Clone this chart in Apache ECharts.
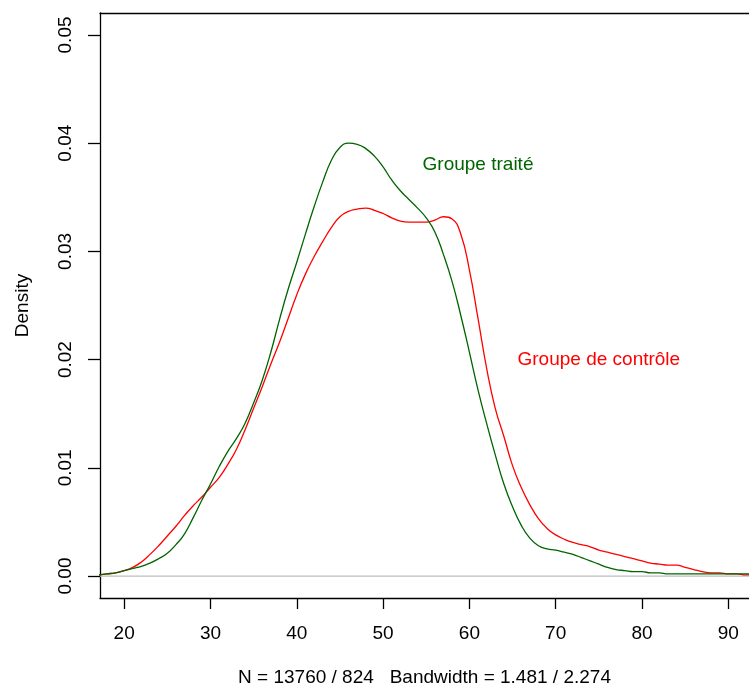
<!DOCTYPE html>
<html>
<head>
<meta charset="utf-8">
<script src="https://cdn.jsdelivr.net/npm/echarts@6/dist/echarts.min.js"></script>
<style>
html,body{margin:0;padding:0;background:#fff;}
#chart{width:749px;height:689px;}
</style>
</head>
<body>
<div id="chart"></div>
<script>
// Density estimates (x = age, y = density)
var ages = [17, 18, 19, 20, 21, 22, 23, 24, 25, 26, 27, 28, 29, 30, 31, 32, 33, 34, 35, 36, 37, 38, 39, 40, 41, 42, 43, 44, 45, 46, 47, 48, 49, 50, 51, 52, 53, 54, 55, 56, 57, 58, 59, 60, 61, 62, 63, 64, 65, 66, 67, 68, 69, 70, 71, 72, 73, 74, 75, 76, 77, 78, 79, 80, 81, 82, 83, 84, 85, 86, 87, 88, 89, 90, 91, 92, 93];

var treatedDensity = [0.0001, 0.0002, 0.0003, 0.0005, 0.0007, 0.0009, 0.0012, 0.0016, 0.0021, 0.0029, 0.0039, 0.0054, 0.0070, 0.0085, 0.0101, 0.0115, 0.0127, 0.0141, 0.0160, 0.0181, 0.0207, 0.0237, 0.0265, 0.0290, 0.0316, 0.0341, 0.0364, 0.0384, 0.0396, 0.0400, 0.0399, 0.0395, 0.0388, 0.0378, 0.0366, 0.0356, 0.0348, 0.0340, 0.0331, 0.0318, 0.0297, 0.0272, 0.0241, 0.0207, 0.0172, 0.0141, 0.0112, 0.0085, 0.0064, 0.0047, 0.0035, 0.0028, 0.0025, 0.0024, 0.0022, 0.0020, 0.0017, 0.0014, 0.0011, 0.0008, 0.0006, 0.0005, 0.0004, 0.0004, 0.0003, 0.0003, 0.0002, 0.0002, 0.0002, 0.0002, 0.0002, 0.0002, 0.0002, 0.0002, 0.0002, 0.0002, 0.0002];

var controlDensity = [0.0001, 0.0002, 0.0003, 0.0005, 0.0008, 0.0013, 0.0020, 0.0028, 0.0037, 0.0046, 0.0056, 0.0065, 0.0073, 0.0082, 0.0091, 0.0103, 0.0117, 0.0135, 0.0155, 0.0175, 0.0196, 0.0216, 0.0238, 0.0260, 0.0279, 0.0295, 0.0309, 0.0322, 0.0332, 0.0337, 0.0339, 0.0340, 0.0338, 0.0335, 0.0331, 0.0328, 0.0327, 0.0327, 0.0327, 0.0329, 0.0332, 0.0330, 0.0316, 0.0283, 0.0238, 0.0192, 0.0155, 0.0129, 0.0102, 0.0082, 0.0066, 0.0053, 0.0044, 0.0038, 0.0034, 0.0031, 0.0029, 0.0027, 0.0024, 0.0022, 0.0020, 0.0018, 0.0016, 0.0014, 0.0012, 0.0011, 0.0010, 0.0010, 0.0008, 0.0006, 0.0004, 0.0003, 0.0003, 0.0002, 0.0002, 0.0001, 0.0001];

var xTicks = [20, 30, 40, 50, 60, 70, 80, 90];
var yTicks = [0, 0.01, 0.02, 0.03, 0.04, 0.05];

var treatedLabel = {text: 'Groupe traité', x: 61, y: 0.038};
var controlLabel = {text: 'Groupe de contrôle', x: 75, y: 0.02};
var xTitle = 'N = 13760 / 824   Bandwidth = 1.481 / 2.274';
var yTitle = 'Density';

function zip(xs, ys){ return xs.map(function(x,i){ return [x, ys[i]]; }); }

var FONT = 'Liberation Sans, Arial, sans-serif';
var FS = 19;

var chart = echarts.init(document.getElementById('chart'), null, {renderer: 'canvas'});
chart.setOption({
  animation: false,
  backgroundColor: '#ffffff',
  grid: {left: 100, right: 0, top: 13, bottom: 91, containLabel: false, outerBoundsMode: 'none'},
  xAxis: [{
    type: 'value', min: 17.2, max: 92.4, position: 'bottom',
    name: xTitle, nameLocation: 'middle', nameGap: 70,
    nameTextStyle: {fontFamily: FONT, fontSize: FS, color: '#000'},
    splitLine: {show: false},
    axisLine: {show: true, onZero: false, lineStyle: {color: '#000', width: 1.3}},
    axisTick: {show: true, length: 11, customValues: xTicks, lineStyle: {color: '#000', width: 1.3}},
    axisLabel: {customValues: xTicks, margin: 26, fontFamily: FONT, fontSize: FS, color: '#000'}
  }, {
    type: 'value', min: 17.2, max: 92.4, position: 'top',
    splitLine: {show: false},
    axisLine: {show: true, onZero: false, lineStyle: {color: '#000', width: 1.3}},
    axisTick: {show: false}, axisLabel: {show: false}
  }],
  yAxis: {
    type: 'value', min: -0.00203, max: 0.05203,
    name: yTitle, nameLocation: 'middle', nameGap: 68, nameRotate: 90,
    nameTextStyle: {fontFamily: FONT, fontSize: FS, color: '#000'},
    splitLine: {show: false},
    axisLine: {show: true, onZero: false, lineStyle: {color: '#000', width: 1.3}},
    axisTick: {show: true, length: 12, customValues: yTicks, lineStyle: {color: '#000', width: 1.3}},
    axisLabel: {customValues: yTicks, rotate: 90, margin: 25, fontFamily: FONT, fontSize: FS, color: '#000',
      formatter: function(v){ return v.toFixed(2); }}
  },
  series: [{
    name: 'zero', type: 'line', data: [[17.2, 0], [92.4, 0]], symbol: 'none',
    lineStyle: {color: '#bebebe', width: 1.2}, silent: true, z: 1
  }, {
    name: 'Groupe traité', type: 'line', data: zip(ages, treatedDensity),
    symbol: 'none', smooth: 0.5, clip: true,
    lineStyle: {color: '#006400', width: 1.3}, z: 3,
    markPoint: {
      symbol: 'circle', symbolSize: 0,
      label: {show: true, position: 'inside', formatter: treatedLabel.text, fontFamily: FONT, fontSize: FS, color: '#006400'},
      data: [{coord: [treatedLabel.x, treatedLabel.y]}]
    }
  }, {
    name: 'Groupe de contrôle', type: 'line', data: zip(ages, controlDensity),
    symbol: 'none', smooth: 0.5, clip: true,
    lineStyle: {color: '#ff0000', width: 1.3}, z: 2,
    markPoint: {
      symbol: 'circle', symbolSize: 0,
      label: {show: true, position: 'inside', formatter: controlLabel.text, fontFamily: FONT, fontSize: FS, color: '#ff0000'},
      data: [{coord: [controlLabel.x, controlLabel.y]}]
    }
  }]
});
</script>
</body>
</html>
